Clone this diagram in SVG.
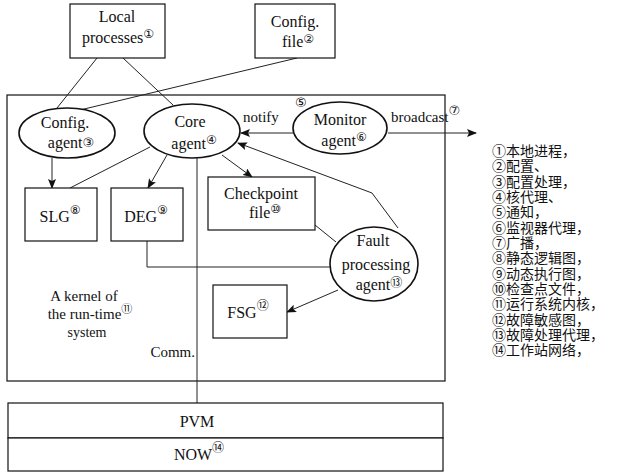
<svg xmlns="http://www.w3.org/2000/svg" width="642" height="473" viewBox="0 0 642 473">
<defs>
<marker id="ah" markerWidth="10" markerHeight="8" refX="9" refY="4" orient="auto" markerUnits="userSpaceOnUse">
<path d="M0,0 L10,4 L0,8 L2,4 Z" fill="#111"/>
</marker>
<style>
.box{fill:#fff;stroke:#111;stroke-width:1.2}
.ell{fill:#fff;stroke:#111;stroke-width:1.6}
.ln{fill:none;stroke:#222;stroke-width:1}
.t{font-size:16px;fill:#111;text-anchor:middle}
.s{font-size:15px;fill:#111}
.n{font-family:'DejaVu Sans','Noto Sans CJK SC',sans-serif;font-size:12px}
.lg{font-size:14px;fill:#111}
</style>
</defs>
<rect width="642" height="473" fill="#fff"/>

<g id="kernel" font-family="Liberation Serif, Times New Roman, serif">
<rect class="box" x="7" y="95" width="438" height="286" fill="none"/>
<text class="t" x="84" y="301" style="font-size:15px">A kernel of</text>
<text class="t" x="90" y="319" style="font-size:15px">the run-time<tspan class="n" dy="-6" style="font-size:11px">⑪</tspan></text>
<text class="t" x="87" y="337" style="font-size:14px">system</text>
<text class="s" x="195" y="357" text-anchor="end">Comm.</text>
</g>

<g id="connectors">
<line class="ln" x1="97" y1="58" x2="57" y2="108"/>
<line class="ln" x1="123" y1="58" x2="173" y2="105"/>
<line class="ln" x1="297" y1="58" x2="80" y2="110"/>
<line class="ln" x1="293" y1="133" x2="241" y2="133" marker-end="url(#ah)"/>
<line class="ln" x1="388" y1="133" x2="476" y2="133" marker-end="url(#ah)"/>
<line class="ln" x1="52" y1="158" x2="52" y2="188" marker-end="url(#ah)"/>
<line class="ln" x1="150" y1="147" x2="70" y2="188"/>
<line class="ln" x1="167" y1="155" x2="148" y2="188" marker-end="url(#ah)"/>
<line class="ln" x1="222" y1="155" x2="252" y2="177" marker-end="url(#ah)"/>
<polyline class="ln" points="398,228 372,193 238,143" marker-end="url(#ah)"/>
<line class="ln" x1="315" y1="225" x2="336" y2="242"/>
<polyline class="ln" points="147,241 147,267 331,267"/>
<line class="ln" x1="338" y1="290" x2="287" y2="312" marker-end="url(#ah)"/>
<line class="ln" x1="197" y1="158" x2="197" y2="403"/>
</g>

<g font-family="Liberation Serif, Times New Roman, serif">
<g id="local-processes">
<rect class="box" x="70" y="4" width="95" height="54"/>
<text class="t" x="117" y="22">Local</text>
<text class="t" x="118" y="43">processes<tspan class="n" dy="-5">①</tspan></text>
</g>

<g id="config-file">
<rect class="box" x="255" y="4" width="80" height="54"/>
<text class="t" x="295" y="27">Config.</text>
<text class="t" x="298" y="47">file<tspan class="n" dy="-4">②</tspan></text>
</g>

<g id="config-agent">
<ellipse class="ell" cx="67" cy="133" rx="48" ry="25"/>
<text class="t" x="65" y="128">Config.</text>
<text class="t" x="71" y="148">agent<tspan class="n" dy="-1" style="font-size:13px">③</tspan></text>
</g>

<g id="core-agent">
<ellipse class="ell" cx="192" cy="131" rx="48" ry="27"/>
<text class="t" x="190" y="127">Core</text>
<text class="t" x="194" y="149">agent<tspan class="n" dy="-5">④</tspan></text>
</g>

<g id="monitor-agent">
<ellipse class="ell" cx="340" cy="128" rx="47" ry="26"/>
<text class="t" x="340" y="125">Monitor</text>
<text class="t" x="344" y="146">agent<tspan class="n" dy="-5">⑥</tspan></text>
</g>

<g id="labels">
<text class="s" x="243" y="122">notify</text>
<text class="n" x="295" y="107" style="font-size:13px">⑤</text>
<text class="s" x="391" y="122">broadcast<tspan class="n" dy="-7" style="font-size:13px">⑦</tspan></text>
</g>

<g id="slg">
<rect class="box" x="25" y="188" width="72" height="53"/>
<text class="t" x="60" y="222">SLG<tspan class="n" dy="-8" style="font-size:12px">⑧</tspan></text>
</g>

<g id="deg">
<rect class="box" x="111" y="188" width="72" height="53"/>
<text class="t" x="146" y="222">DEG<tspan class="n" dy="-8" style="font-size:12px">⑨</tspan></text>
</g>

<g id="checkpoint-file">
<rect class="box" x="208" y="177" width="107" height="53"/>
<text class="t" x="261" y="199">Checkpoint</text>
<text class="t" x="265" y="218">file<tspan class="n" dy="-5">⑩</tspan></text>
</g>

<g id="fault-agent">
<ellipse class="ell" cx="374" cy="264" rx="44" ry="37"/>
<text class="t" x="373" y="246">Fault</text>
<text class="t" x="376" y="270">processing</text>
<text class="t" x="379" y="290">agent<tspan class="n" dy="-3" style="font-size:12px">⑬</tspan></text>
</g>

<g id="fsg">
<rect class="box" x="213" y="285" width="74" height="53"/>
<text class="t" x="248" y="318">FSG<tspan class="n" dy="-8" style="font-size:12px">⑫</tspan></text>
</g>

<g id="pvm">
<rect class="box" x="8" y="403" width="435" height="35"/>
<text class="t" x="197" y="427">PVM</text>
</g>

<g id="now">
<rect class="box" x="8" y="438" width="435" height="33"/>
<text class="t" x="199" y="460">NOW<tspan class="n" dy="-8" style="font-size:12px">⑭</tspan></text>
</g>
</g>

<g id="legend" font-family="Noto Sans CJK SC, Noto Sans CJK TC, sans-serif">
<text class="lg" x="492" y="156"><tspan x="492" y="156">①本地进程，</tspan><tspan x="492" y="171">②配置、</tspan><tspan x="492" y="187">③配置处理，</tspan><tspan x="492" y="202">④核代理、</tspan><tspan x="492" y="217">⑤通知，</tspan><tspan x="492" y="233">⑥监视器代理，</tspan><tspan x="492" y="248">⑦广播，</tspan><tspan x="492" y="263">⑧静态逻辑图，</tspan><tspan x="492" y="279">⑨动态执行图，</tspan><tspan x="492" y="294">⑩检查点文件，</tspan><tspan x="492" y="309">⑪运行系统内核，</tspan><tspan x="492" y="325">⑫故障敏感图，</tspan><tspan x="492" y="340">⑬故障处理代理，</tspan><tspan x="492" y="355">⑭工作站网络，</tspan></text>
</g>
</svg>
